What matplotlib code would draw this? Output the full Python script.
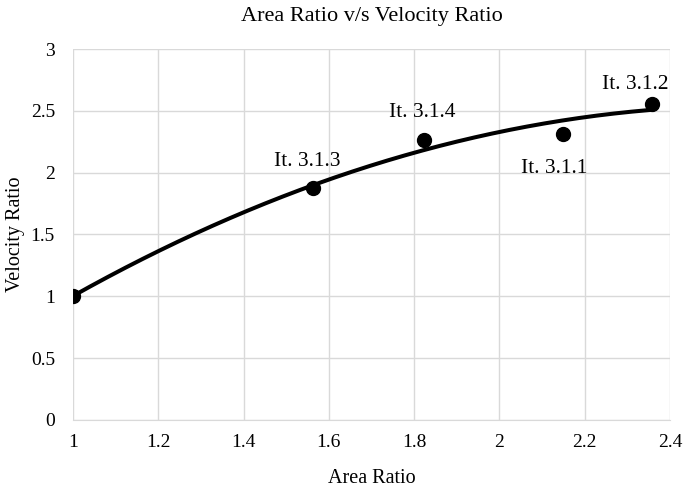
import numpy as np
import matplotlib
matplotlib.use("Agg")
import matplotlib.pyplot as plt

plt.rcParams["font.family"] = ["Liberation Serif", "DejaVu Serif"]

area_ratio = [1.0, 1.563, 1.823, 2.149, 2.358]
velocity_ratio = [1.0, 1.878, 2.262, 2.316, 2.559]
point_labels = ["", "It. 3.1.3", "It. 3.1.4", "It. 3.1.1", "It. 3.1.2"]
label_offsets = [(0, 0), (-4, 19), (-1, 20), (-6, -25), (-12, 14)]

x_ticks = [1, 1.2, 1.4, 1.6, 1.8, 2, 2.2, 2.4]
x_tick_labels = ["1", "1.2", "1.4", "1.6", "1.8", "2", "2.2", "2.4"]
y_ticks = [0, 0.5, 1, 1.5, 2, 2.5, 3]
y_tick_labels = ["0", "0.5", "1", "1.5", "2", "2.5", "3"]

# polynomial (order 2) trendline, as in the spreadsheet
coef = np.polyfit(area_ratio, velocity_ratio, 2)
xt = np.linspace(min(area_ratio), max(area_ratio), 200)
yt = np.polyval(coef, xt)

fig = plt.figure(figsize=(6.86, 4.9), dpi=100)
ax = fig.add_axes([0.1064, 0.1429, 0.8703, 0.7571])

ax.plot(xt, yt, color="black", lw=2.9, zorder=3)
ax.plot(area_ratio, velocity_ratio, "o", color="black", ms=10, zorder=4)

for x, y, lab, off in zip(area_ratio, velocity_ratio, point_labels, label_offsets):
    if lab:
        ax.annotate(lab, (x, y), xytext=off, textcoords="offset points",
                    ha="center", va="center", fontsize=15.5)

ax.set_xlim(1, 2.4)
ax.set_ylim(0, 3)
ax.set_xticks(x_ticks)
ax.set_xticklabels(x_tick_labels)
ax.set_yticks(y_ticks)
ax.set_yticklabels(y_tick_labels)
ax.tick_params(length=0, labelsize=14)
ax.tick_params(axis="x", pad=10)
ax.tick_params(axis="y", pad=13)
ax.grid(True, color="#d9d9d9", lw=1)
ax.set_axisbelow(True)
for s in ["top", "right", "left"]:
    ax.spines[s].set_visible(False)
ax.spines["bottom"].set_color("#d9d9d9")

ax.set_title("Area Ratio v/s Velocity Ratio", fontsize=16, pad=20)
ax.set_xlabel("Area Ratio", fontsize=14.5)
ax.set_ylabel("Velocity Ratio", fontsize=14.5)
ax.xaxis.set_label_coords(0.5, -0.158)
ax.yaxis.set_label_coords(-0.097, 0.5)
ax.xaxis.label.set_va("center")
ax.yaxis.label.set_va("center")

fig.savefig("out.png", dpi=100)
